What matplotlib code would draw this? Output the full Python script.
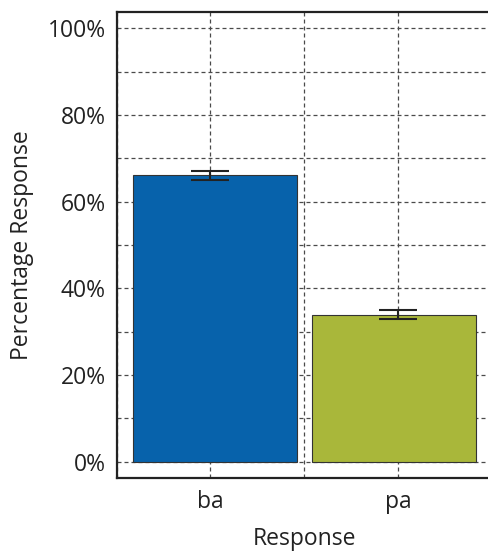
import matplotlib.pyplot as plt
import numpy as np
from matplotlib.ticker import FuncFormatter, MultipleLocator

plt.rcParams['font.family'] = ['Open Sans', 'DejaVu Sans']

# Response proportions (percent) with standard errors
responses = ['ba', 'pa']
pct = [66.1, 33.9]
err = [1.05, 1.05]
colors = ['#0762AB', '#A9B73A']

x = np.arange(1, len(responses) + 1)
bar_shift = np.array([0.025, -0.02])

fig = plt.figure(figsize=(4.89, 5.52), dpi=100)
ax = fig.add_axes([0.2387, 0.1346, 0.7665, 0.8431])

ax.bar(x + bar_shift, pct, width=0.877, color=colors, edgecolor='#333333',
       linewidth=0.8, zorder=2)
ax.errorbar(x, pct, yerr=err, fmt='none', ecolor='#222222', elinewidth=1.5,
            capsize=14, capthick=1.5, zorder=3)

ax.set_xlim(0.5, 2.5)
ax.set_ylim(-3.7, 103.7)
ax.set_xticks(x)
ax.set_xticklabels(responses)
ax.xaxis.set_minor_locator(MultipleLocator(0.5))
ax.set_yticks(np.arange(0, 101, 20))
ax.yaxis.set_minor_locator(MultipleLocator(10))
ax.yaxis.set_major_formatter(FuncFormatter(lambda v, _: f'{v:.0f}%'))

ax.grid(True, which='both', linestyle=(0, (3.2, 2.4)), color='#4a4a4a',
        linewidth=0.9, zorder=0)
ax.set_axisbelow(True)

ax.tick_params(which='both', length=0, labelsize=16.5, pad=8, colors='#222222')
ax.tick_params(axis='x', pad=9)

for side in ['left', 'bottom', 'top', 'right']:
    ax.spines[side].set_linewidth(1.6)
    ax.spines[side].set_color('#222222')

ax.set_xlabel('Response', fontsize=16.5, labelpad=9, color='#222222')
ax.set_ylabel('Percentage Response', fontsize=16.5, labelpad=10, color='#222222')

fig.savefig('out.png', dpi=100)
